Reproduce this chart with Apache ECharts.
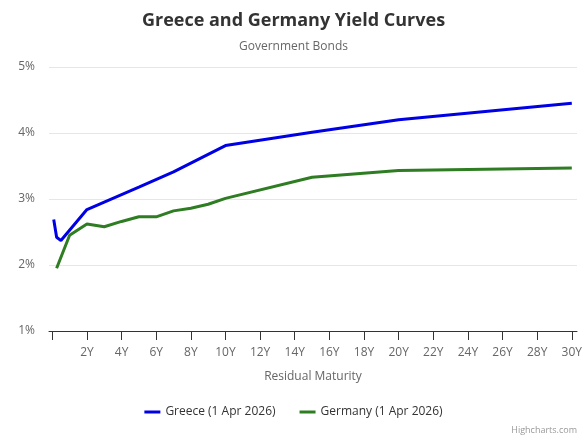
<!DOCTYPE html>
<html>
<head>
<meta charset="utf-8">
<script src="https://cdn.jsdelivr.net/npm/echarts@6/dist/echarts.min.js"></script>
<style>html,body{margin:0;padding:0;background:#fff}#c{width:587px;height:440px}</style>
</head>
<body>
<div id="c"></div>
<script>
const greeceName = 'Greece (1 Apr 2026)';
const germanyName = 'Germany (1 Apr 2026)';
// [years, yield %]
const greeceData = [[0.083,2.69],[0.25,2.42],[0.5,2.37],[2,2.84],[5,3.18],[7,3.41],[10,3.81],[15,4.01],[20,4.20],[30,4.45]];
const germanyData = [[0.25,1.95],[1,2.45],[2,2.62],[3,2.58],[4,2.66],[5,2.73],[6,2.73],[7,2.82],[8,2.86],[9,2.92],[10,3.01],[15,3.33],[20,3.43],[30,3.47]];
const xTicks = [0,2,4,6,8,10,12,14,16,18,20,22,24,26,28,30];
const xLabels = [2,4,6,8,10,12,14,16,18,20,22,24,26,28,30];
const yTicks = [1,2,3,4,5];

const font = "'Open Sans', 'Noto Sans', sans-serif";
const chart = echarts.init(document.getElementById('c'));
chart.setOption({
  animation: false,
  textStyle: {fontFamily: font},
  title: [
    {text: 'Greece and Germany Yield Curves', left: 'center', top: 7,
     textStyle: {fontSize: 18, fontWeight: 'bold', color: '#333', fontFamily: font}},
    {text: 'Government Bonds', left: 'center', top: 36,
     textStyle: {fontSize: 12, fontWeight: 'normal', color: '#666', fontFamily: font}}
  ],
  legend: {
    bottom: 17, left: 'center', itemGap: 24,
    itemWidth: 16, itemHeight: 3, icon: 'rect',
    textStyle: {fontSize: 12, color: '#333', fontFamily: font},
    data: [greeceName, germanyName]
  },
  grid: {left: 49, right: 10, top: 67, bottom: 109},
  xAxis: {
    type: 'value', min: -0.19, max: 30.3,
    name: 'Residual Maturity', nameLocation: 'middle', nameGap: 40,
    nameTextStyle: {color: '#666', fontSize: 12, fontFamily: font},
    axisLine: {show: true, lineStyle: {color: '#333', width: 1}},
    axisTick: {show: true, length: 9, customValues: xTicks, lineStyle: {color: '#333'}},
    axisLabel: {customValues: xLabels, formatter: v => v + 'Y', color: '#666', fontSize: 12, margin: 16, fontFamily: font},
    splitLine: {show: false}
  },
  yAxis: {
    type: 'value', min: yTicks[0], max: yTicks[yTicks.length-1], interval: 1,
    axisLine: {show: false}, axisTick: {show: false},
    axisLabel: {formatter: '{value}%', color: '#666', fontSize: 12, margin: 14, fontFamily: font},
    splitLine: {show: true, lineStyle: {color: '#e6e6e6', width: 1}}
  },
  series: [
    {name: greeceName, type: 'line', data: greeceData, showSymbol: false, symbol: 'none',
     lineStyle: {width: 3, color: '#0000e6'}, itemStyle: {color: '#0000e6'}},
    {name: germanyName, type: 'line', data: germanyData, showSymbol: false, symbol: 'none',
     lineStyle: {width: 3, color: '#2e7d22'}, itemStyle: {color: '#2e7d22'}}
  ],
  graphic: [
    {type: 'text', right: 10, bottom: 5,
     style: {text: 'Highcharts.com', fill: '#999', fontSize: 9, fontFamily: font}}
  ]
});
</script>
</body>
</html>
